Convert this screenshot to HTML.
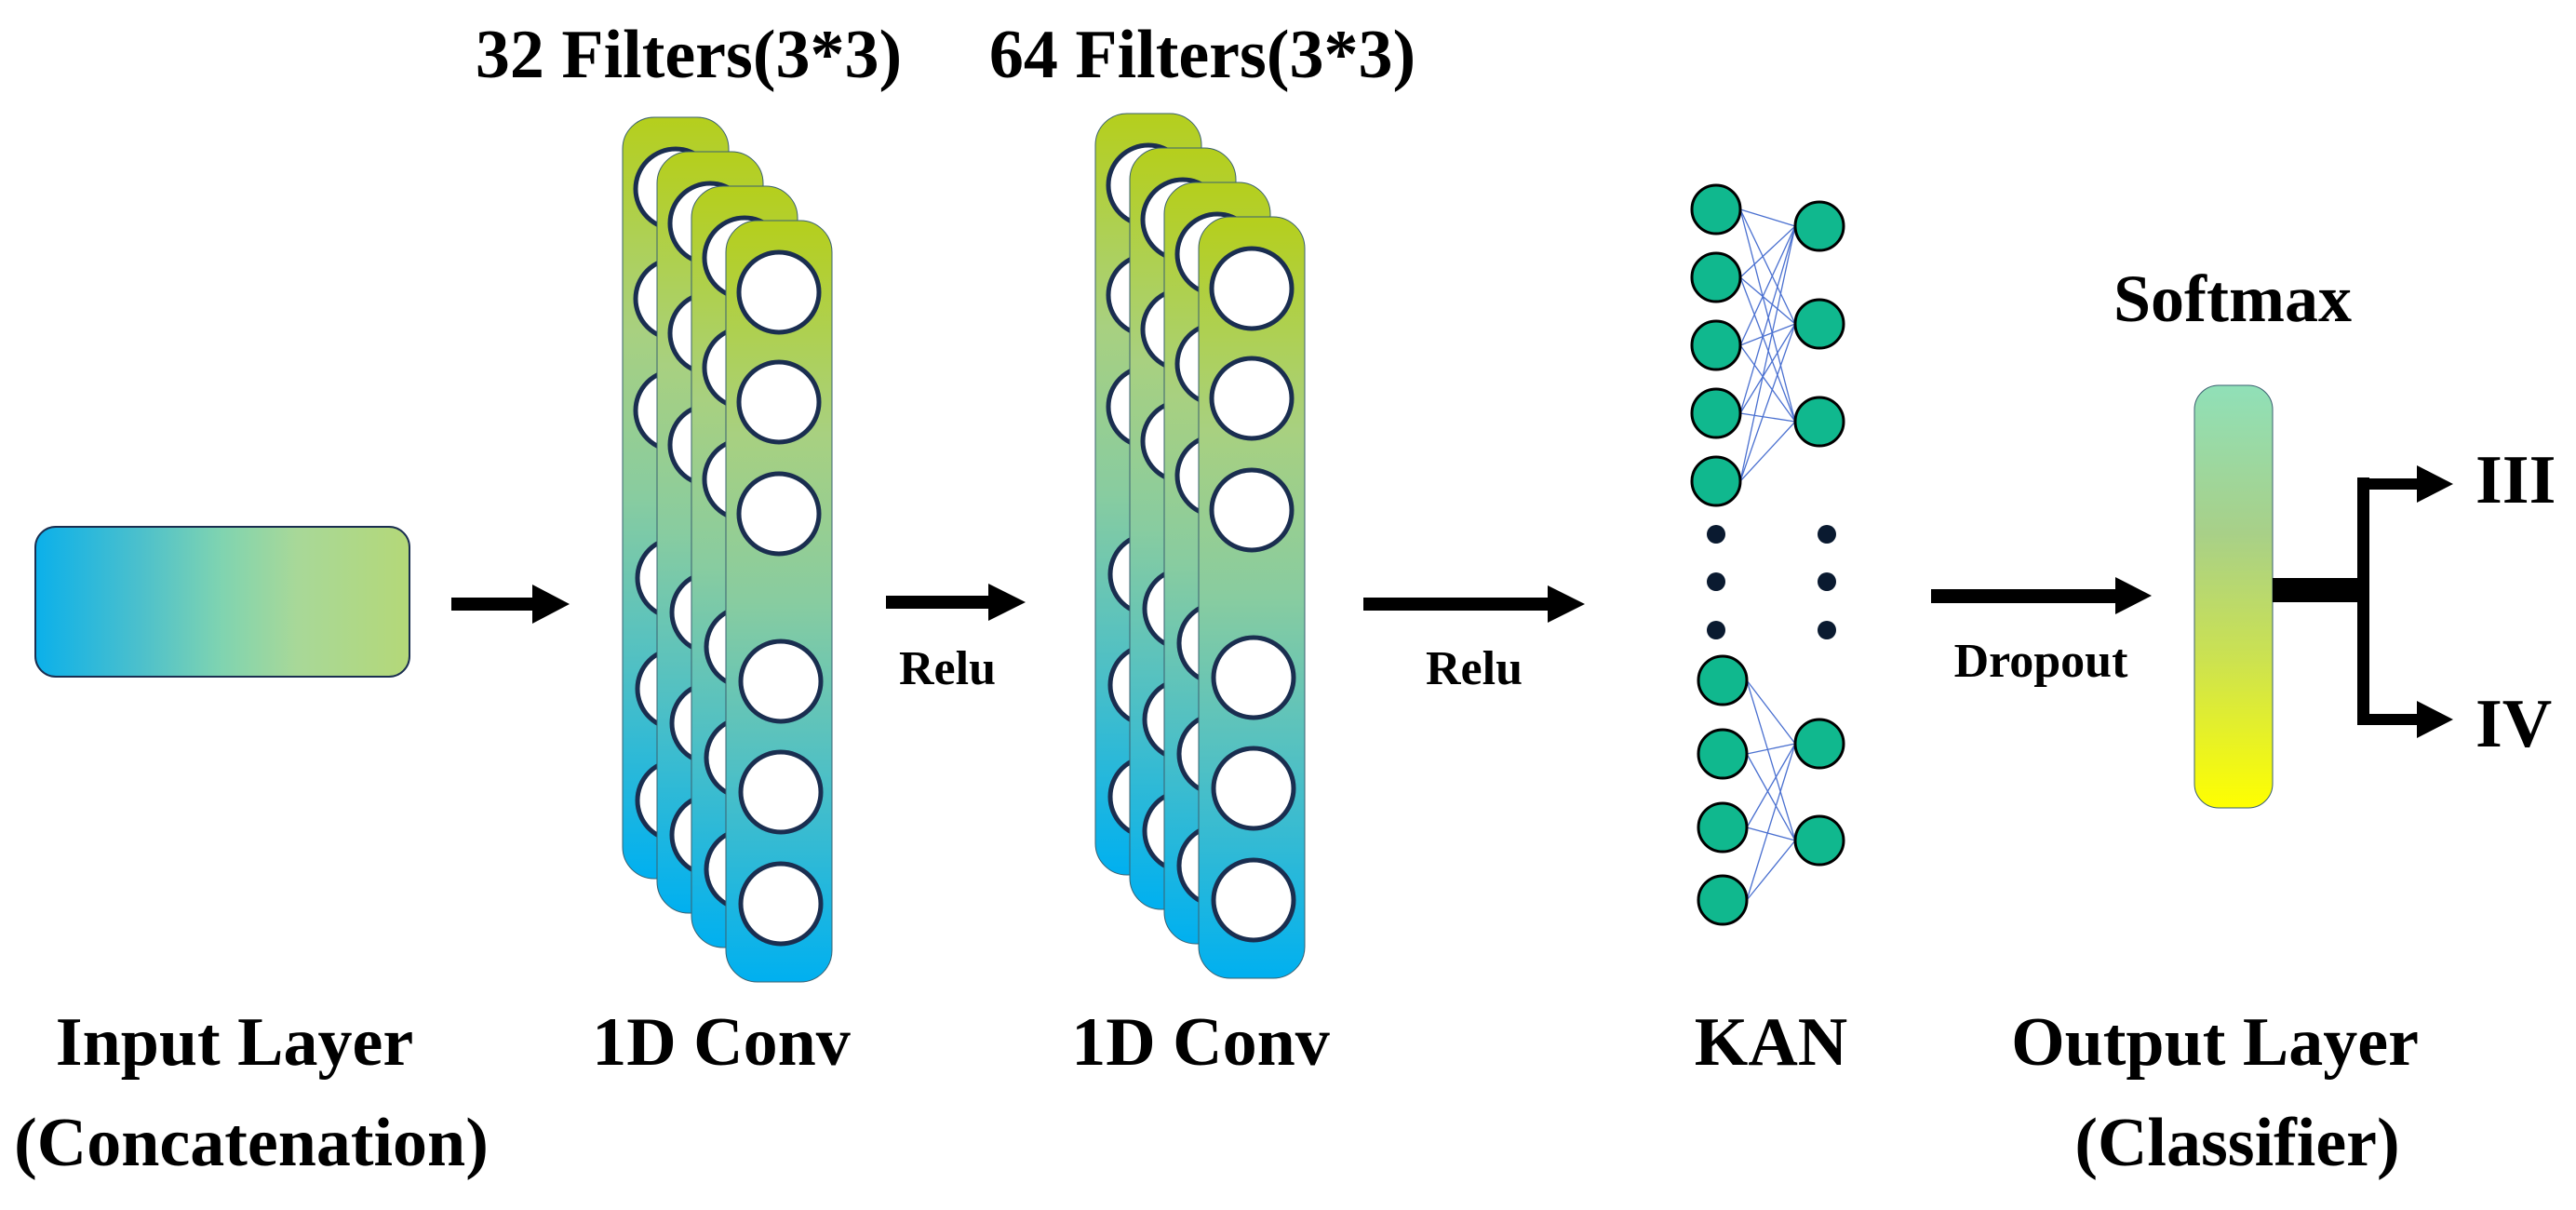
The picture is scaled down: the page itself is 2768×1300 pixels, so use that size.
<!DOCTYPE html>
<html><head><meta charset="utf-8"><style>
html,body{margin:0;padding:0;background:#fff;}
svg{display:block;}
text{font-family:"Liberation Serif",serif;font-weight:bold;fill:#000;}
</style></head><body>
<svg width="2768" height="1300" viewBox="0 0 2768 1300" xmlns="http://www.w3.org/2000/svg">
<defs>
<linearGradient id="gin" x1="0" y1="0" x2="1" y2="0">
<stop offset="0" stop-color="#0bb0ea"/><stop offset="0.28" stop-color="#4cc0cc"/><stop offset="0.5" stop-color="#80d4b0"/><stop offset="0.7" stop-color="#a8d898"/><stop offset="1" stop-color="#b4d878"/>
</linearGradient>
<linearGradient id="gc" x1="0" y1="0" x2="0" y2="1">
<stop offset="0" stop-color="#b5cf1c"/><stop offset="0.28" stop-color="#a8d080"/><stop offset="0.5" stop-color="#88cca0"/><stop offset="0.72" stop-color="#50c0c4"/><stop offset="1" stop-color="#00b0f0"/>
</linearGradient>
<linearGradient id="gs" x1="0" y1="0" x2="0" y2="1">
<stop offset="0" stop-color="#90e0b8"/><stop offset="0.35" stop-color="#a8d088"/><stop offset="0.65" stop-color="#cce250"/><stop offset="1" stop-color="#ffff00"/>
</linearGradient>
<g id="col">
<rect x="0" y="0" width="114" height="818" rx="34" fill="url(#gc)" stroke="#3a6070" stroke-width="1"/>
<g fill="#fff" stroke="#1a2e50" stroke-width="5">
<circle cx="57" cy="77" r="43"/><circle cx="57" cy="195" r="43"/><circle cx="57" cy="315" r="43"/>
<circle cx="59" cy="495" r="43"/><circle cx="59" cy="614" r="43"/><circle cx="59" cy="734" r="43"/>
</g>
</g>
<g id="conv">
<use href="#col" x="0" y="0"/><use href="#col" x="37" y="37"/><use href="#col" x="74" y="74"/><use href="#col" x="111" y="111"/>
</g>
</defs>

<text x="740" y="83" font-size="74" text-anchor="middle">32 Filters(3*3)</text>
<text x="1292" y="83" font-size="74" text-anchor="middle">64 Filters(3*3)</text>

<rect x="38" y="566" width="402" height="161" rx="22" fill="url(#gin)" stroke="#1a2e50" stroke-width="2"/>

<!-- arrow 1 -->
<rect x="485" y="642" width="90" height="14" fill="#000"/>
<polygon points="572,628 612,649 572,670" fill="#000"/>

<use href="#conv" x="669" y="126"/>

<rect x="952" y="640" width="112" height="14" fill="#000"/>
<polygon points="1062,627 1102,647 1062,667" fill="#000"/>
<text x="1018" y="735" font-size="52" text-anchor="middle">Relu</text>

<use href="#conv" x="1177" y="122"/>

<rect x="1465" y="642" width="200" height="14" fill="#000"/>
<polygon points="1663,629 1703,649 1663,669" fill="#000"/>
<text x="1584" y="735" font-size="52" text-anchor="middle">Relu</text>

<!-- KAN -->
<g stroke="#4a70d0" stroke-width="1.3">
<line x1="1870" y1="225" x2="1929" y2="243"/><line x1="1870" y1="225" x2="1929" y2="348"/><line x1="1870" y1="225" x2="1929" y2="453"/>
<line x1="1870" y1="298" x2="1929" y2="243"/><line x1="1870" y1="298" x2="1929" y2="348"/><line x1="1870" y1="298" x2="1929" y2="453"/>
<line x1="1870" y1="371" x2="1929" y2="243"/><line x1="1870" y1="371" x2="1929" y2="348"/><line x1="1870" y1="371" x2="1929" y2="453"/>
<line x1="1870" y1="444" x2="1929" y2="243"/><line x1="1870" y1="444" x2="1929" y2="348"/><line x1="1870" y1="444" x2="1929" y2="453"/>
<line x1="1870" y1="517" x2="1929" y2="243"/><line x1="1870" y1="517" x2="1929" y2="348"/><line x1="1870" y1="517" x2="1929" y2="453"/>
<line x1="1877" y1="731" x2="1929" y2="799"/><line x1="1877" y1="731" x2="1929" y2="903"/>
<line x1="1877" y1="810" x2="1929" y2="799"/><line x1="1877" y1="810" x2="1929" y2="903"/>
<line x1="1877" y1="889" x2="1929" y2="799"/><line x1="1877" y1="889" x2="1929" y2="903"/>
<line x1="1877" y1="967" x2="1929" y2="799"/><line x1="1877" y1="967" x2="1929" y2="903"/>
</g>
<g fill="#10b88e" stroke="#000" stroke-width="3">
<circle cx="1844" cy="225" r="26"/><circle cx="1844" cy="298" r="26"/><circle cx="1844" cy="371" r="26"/><circle cx="1844" cy="444" r="26"/><circle cx="1844" cy="517" r="26"/>
<circle cx="1955" cy="243" r="26"/><circle cx="1955" cy="348" r="26"/><circle cx="1955" cy="453" r="26"/>
<circle cx="1851" cy="731" r="26"/><circle cx="1851" cy="810" r="26"/><circle cx="1851" cy="889" r="26"/><circle cx="1851" cy="967" r="26"/>
<circle cx="1955" cy="799" r="26"/><circle cx="1955" cy="903" r="26"/>
</g>
<g fill="#0a1a30">
<circle cx="1844" cy="574" r="10"/><circle cx="1844" cy="625" r="10"/><circle cx="1844" cy="677" r="10"/>
<circle cx="1963" cy="574" r="10"/><circle cx="1963" cy="625" r="10"/><circle cx="1963" cy="677" r="10"/>
</g>

<!-- dropout arrow -->
<rect x="2075" y="633" width="200" height="15" fill="#000"/>
<polygon points="2273,620 2312,640 2273,660" fill="#000"/>
<text x="2193" y="727" font-size="52" text-anchor="middle">Dropout</text>

<text x="2399" y="345" font-size="72" text-anchor="middle">Softmax</text>
<rect x="2358" y="414" width="84" height="454" rx="26" fill="url(#gs)" stroke="#3a6070" stroke-width="1"/>

<rect x="2442" y="621" width="103" height="26" fill="#000"/>
<rect x="2533" y="513" width="13" height="266" fill="#000"/>
<rect x="2533" y="514" width="66" height="12" fill="#000"/>
<polygon points="2597,500 2636,520 2597,540" fill="#000"/>
<rect x="2533" y="767" width="66" height="12" fill="#000"/>
<polygon points="2597,753 2636,773 2597,793" fill="#000"/>
<text x="2660" y="540" font-size="74">III</text>
<text x="2660" y="802" font-size="74">IV</text>

<text x="252" y="1144" font-size="74" text-anchor="middle">Input Layer</text>
<text x="270" y="1252" font-size="74" text-anchor="middle">(Concatenation)</text>
<text x="775" y="1144" font-size="74" text-anchor="middle">1D Conv</text>
<text x="1290" y="1144" font-size="74" text-anchor="middle">1D Conv</text>
<text x="1903" y="1144" font-size="74" text-anchor="middle">KAN</text>
<text x="2380" y="1144" font-size="74" text-anchor="middle">Output Layer</text>
<text x="2404" y="1252" font-size="74" text-anchor="middle">(Classifier)</text>
</svg>
</body></html>
